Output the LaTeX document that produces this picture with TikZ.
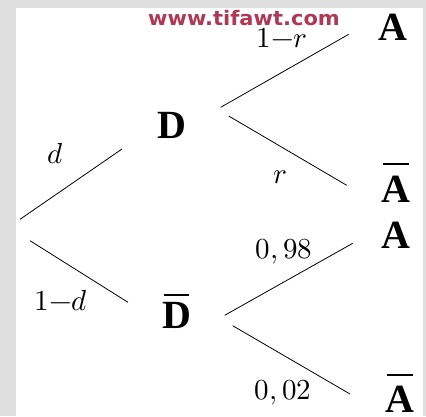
\documentclass[tikz,border=0pt]{standalone}
\usepackage{fontspec}
\usepackage{unicode-math}
\setmathfont{Latin Modern Math}
\newfontfamily\letterfont{Liberation Serif}
\newfontfamily\wmfont[FakeStretch=1.05]{DejaVu Sans}
\usepackage{tikz}
\usetikzlibrary{positioning}

\definecolor{framegray}{RGB}{222,222,222}
\definecolor{wmred}{RGB}{176,56,84}

% letter with a bar set well above it
\newsavebox\barbox
\newcommand{\barred}[2]{\sbox\barbox{#2}%
  \vbox{\offinterlineskip
  \hbox to\wd\barbox{\hss\vrule width\dimexpr\wd\barbox-3pt\relax height 2pt depth 0pt\hss}%
  \kern #1pt\box\barbox}}

\begin{document}
\begin{tikzpicture}[
  x=1pt, y=-1pt,
  event/.style={inner sep=0pt, anchor=base, font=\letterfont\bfseries\fontsize{40}{48}\selectfont},
  prob/.style={inner sep=0pt, anchor=base, font=\fontsize{29}{34}\selectfont},
  branch/.style={line width=0.8pt},
]
% frame
\fill[framegray] (0,0) rectangle (426,416);
\fill[white] (16,8) rectangle (423,416);
\useasboundingbox (0,0) rectangle (426,416);

% events
\node[event] (D) at (172,138) {D};
\node[event] (Dbar) at (176.5,328) {\barred{6}{D}};
\node[event] (A1) at (392.5,40) {A};
\node[event] (A1bar) at (396,202) {\barred{11}{A}};
\node[event] (A2) at (396,248) {A};
\node[event] (A2bar) at (400,412) {\barred{10}{A}};

% branch ends
\coordinate (root-u) at (20,219.3);
\coordinate (D-in) at (122,149);
\coordinate (root-l) at (30,240.7);
\coordinate (Dbar-in) at (128,302.3);
\coordinate (D-u) at (220.7,107.3);
\coordinate (A1-in) at (348.7,34.3);
\coordinate (D-l) at (228.7,116);
\coordinate (A1bar-in) at (346.7,185.3);
\coordinate (Dbar-u) at (224.7,315.3);
\coordinate (A2-in) at (352.7,243.3);
\coordinate (Dbar-l) at (232.7,325.7);
\coordinate (A2bar-in) at (350,394);

% branches
\draw[branch] (root-u) -- (D-in);
\draw[branch] (root-l) -- (Dbar-in);
\draw[branch] (D-u) -- (A1-in);
\draw[branch] (D-l) -- (A1bar-in);
\draw[branch] (Dbar-u) -- (A2-in);
\draw[branch] (Dbar-l) -- (A2bar-in);

% probabilities
\node[prob] (pd) at (55,163) {$d$};
\node[prob] (p1d) at (61,310) {$1{-}d$};
\node[prob] (p1r) at (282,47.5) {$1{-}r$};
\node[prob] (pr) at (280,183) {$r$};
\node[prob] (p98) at (284,258) {$0,98$};
\node[prob] (p02) at (283,399) {$0,02$};

% watermark
\node[inner sep=0pt, anchor=base, text=wmred, font=\wmfont\bfseries\fontsize{20}{24}\selectfont] (wm) at (244,25.5) {www.tifawt.com};
\end{tikzpicture}
\end{document}
